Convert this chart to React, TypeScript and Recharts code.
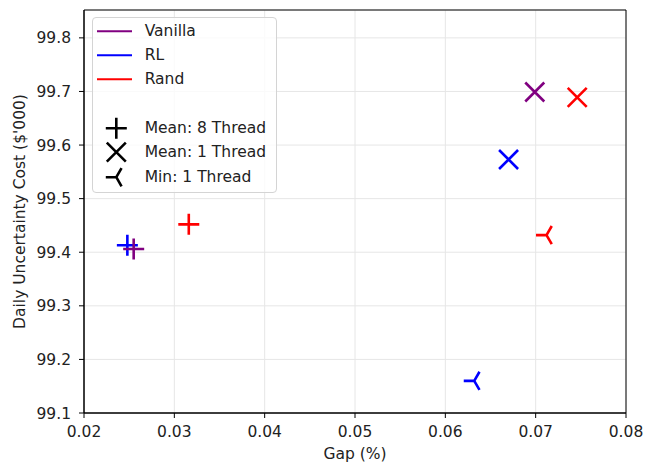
import { ScatterChart, Scatter, XAxis, YAxis, CartesianGrid, ReferenceArea, Legend } from 'recharts';

const seriesNames = ['Vanilla', 'RL', 'Rand'];
const seriesColors = ['#800080', '#0000ff', '#ff0000'];

// values, order: Vanilla, RL, Rand
const mean8Gap = [0.0255, 0.0248, 0.0316];
const mean8Cost = [99.406, 99.413, 99.452];
const mean1Gap = [0.0699, 0.067, 0.0746];
const mean1Cost = [99.699, 99.573, 99.689];
const min1Gap = [null, 0.0632, 0.0712];
const min1Cost = [null, 99.16, 99.432];

const markerLabels = ['Mean: 8 Thread', 'Mean: 1 Thread', 'Min: 1 Thread'];
const markerKinds = ['plus', 'x', 'tri'];

const xTicks = [0.02, 0.03, 0.04, 0.05, 0.06, 0.07, 0.08];
const yTicks = [99.1, 99.2, 99.3, 99.4, 99.5, 99.6, 99.7, 99.8];

// RL drawn under Vanilla
const drawOrder = [1, 0, 2];

const FONT = '"DejaVu Sans", sans-serif';
const FS = 15.5;

function toPoints(gaps: (number | null)[], costs: (number | null)[]) {
  return drawOrder
    .filter((i) => gaps[i] != null)
    .map((i) => ({ gap: gaps[i], cost: costs[i], color: seriesColors[i] }));
}

function Marker({ kind, cx, cy, color }: { kind: string; cx: number; cy: number; color: string }) {
  const sw = 2.6;
  if (kind === 'plus') {
    const r = 10.5;
    return <path d={`M${cx - r},${cy}H${cx + r}M${cx},${cy - r}V${cy + r}`} stroke={color} strokeWidth={sw} fill="none" />;
  }
  if (kind === 'x') {
    const r = 9.5;
    return (
      <path
        d={`M${cx - r},${cy - r}L${cx + r},${cy + r}M${cx - r},${cy + r}L${cx + r},${cy - r}`}
        stroke={color}
        strokeWidth={sw}
        fill="none"
      />
    );
  }
  const r = 10.5;
  return (
    <path
      d={`M${cx},${cy}L${cx - r},${cy}M${cx},${cy}L${cx + 0.5 * r},${cy - 0.866 * r}M${cx},${cy}L${cx + 0.5 * r},${cy + 0.866 * r}`}
      stroke={color}
      strokeWidth={sw}
      fill="none"
    />
  );
}

const ROW = 24.4;

function LegendRow({ icon, label }: { icon: any; label: string }) {
  return (
    <div style={{ height: ROW, display: 'flex', alignItems: 'center' }}>
      <svg width={51.7} height={ROW} style={{ display: 'block', flex: 'none' }}>
        {icon}
      </svg>
      <span style={{ lineHeight: `${ROW}px`, whiteSpace: 'nowrap' }}>{label}</span>
    </div>
  );
}

function LegendBox() {
  return (
    <div
      style={{
        border: '1px solid #d4d4d4',
        borderRadius: 4,
        background: 'rgba(255,255,255,0.8)',
        width: 183,
        padding: '0.5px 0 3px 0',
        fontFamily: FONT,
        fontSize: FS,
        color: '#222',
        boxSizing: 'content-box',
      }}
    >
      {seriesNames.map((n, i) => (
        <LegendRow
          key={n}
          label={n}
          icon={<line x1={4} x2={39} y1={ROW / 2} y2={ROW / 2} stroke={seriesColors[i]} strokeWidth={2} />}
        />
      ))}
      <div style={{ height: ROW }} />
      {markerLabels.map((l, i) => (
        <LegendRow key={l} label={l} icon={<Marker kind={markerKinds[i]} cx={23.3} cy={ROW / 2} color="#000" />} />
      ))}
    </div>
  );
}

export default function App() {
  const groups = [toPoints(mean8Gap, mean8Cost), toPoints(mean1Gap, mean1Cost), toPoints(min1Gap, min1Cost)];
  const tickStyle = { fill: '#222', fontSize: FS, fontFamily: FONT };

  return (
    <div style={{ position: 'absolute', left: 0, top: 0 }}>
      <ScatterChart width={656} height={464} margin={{ top: 10, right: 30, bottom: 0, left: 0 }}>
        <CartesianGrid stroke="#e6e6e6" strokeWidth={1} ticks={undefined} />
        <XAxis
          type="number"
          dataKey="gap"
          domain={[0.02, 0.08]}
          ticks={xTicks}
          allowDataOverflow
          height={51}
          tickSize={5}
          tickMargin={8}
          tick={tickStyle}
          axisLine={{ stroke: '#000', strokeWidth: 1 }}
          tickLine={{ stroke: '#000', strokeWidth: 1 }}
          tickFormatter={(v: number) => v.toFixed(2)}
          label={{
            content: (p: any) => {
              const vb = p.viewBox;
              return (
                <text x={vb.x + vb.width / 2} y={459} textAnchor="middle" fill="#222" fontSize={FS} fontFamily={FONT}>
                  Gap (%)
                </text>
              );
            },
          }}
        />
        <YAxis
          type="number"
          dataKey="cost"
          domain={[99.1, 99.852]}
          ticks={yTicks}
          allowDataOverflow
          width={84}
          tickSize={5}
          tickMargin={8}
          tick={tickStyle}
          axisLine={{ stroke: '#000', strokeWidth: 1 }}
          tickLine={{ stroke: '#000', strokeWidth: 1 }}
          tickFormatter={(v: number) => v.toFixed(1)}
          label={{
            content: (p: any) => {
              const vb = p.viewBox;
              const cy = vb.y + vb.height / 2;
              return (
                <text
                  x={25}
                  y={cy}
                  transform={`rotate(-90, 25, ${cy})`}
                  textAnchor="middle"
                  fill="#222"
                  fontSize={FS}
                  fontFamily={FONT}
                >
                  Daily Uncertainty Cost ($'000)
                </text>
              );
            },
          }}
        />
        <ReferenceArea x1={0.02} x2={0.08} y1={99.1} y2={99.852} fill="none" stroke="#000" strokeWidth={1} fillOpacity={0} />
        {groups.map((data, k) => (
          <Scatter
            key={markerKinds[k]}
            data={data}
            isAnimationActive={false}
            shape={(p: any) => <Marker kind={markerKinds[k]} cx={p.cx} cy={p.cy} color={p.payload.color} />}
          />
        ))}
        <Legend
          layout="vertical"
          align="center"
          verticalAlign="middle"
          wrapperStyle={{ left: 92, top: 17, width: 'auto', height: 'auto' }}
          content={() => <LegendBox />}
        />
      </ScatterChart>
    </div>
  );
}
